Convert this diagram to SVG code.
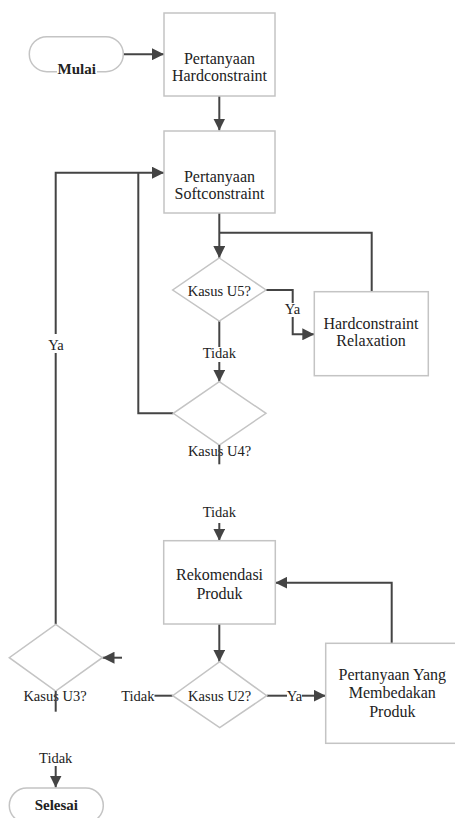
<svg xmlns="http://www.w3.org/2000/svg" width="455" height="818" viewBox="0 0 455 818" font-family="Liberation Serif, Times New Roman, serif" font-size="14.5">
<style>
.shape{fill:#fff;stroke:#c4c4c4;stroke-width:1.5}
.conn{fill:none;stroke:#444;stroke-width:2}
.t{fill:#222;text-anchor:middle}
.n{font-size:16px}
.b{font-weight:bold;font-size:15px}
.bg{fill:#fff;stroke:none}
</style>
<defs>
<marker id="arr" viewBox="0 0 12 12" refX="12" refY="6" markerWidth="12" markerHeight="12" markerUnits="userSpaceOnUse" orient="auto">
<path d="M0,0 L12,6 L0,12 z" fill="#444"/>
</marker>
</defs>
<rect width="455" height="818" fill="#fff"/>
<g id="connectors">
<path class="conn" d="M123.3,54.2 H164" marker-end="url(#arr)"/>
<path class="conn" d="M219.3,96 V130.5" marker-end="url(#arr)"/>
<path class="conn" d="M219.3,213 V258" marker-end="url(#arr)"/>
<path class="conn" d="M371.7,291.7 V232.7 H219.3"/>
<path class="conn" d="M266,290 H292.7 V303"/>
<path class="conn" d="M292.7,317 V334.3 H314.3" marker-end="url(#arr)"/>
<path class="conn" d="M219.3,321 V347"/>
<path class="conn" d="M219.3,362 V381.7" marker-end="url(#arr)"/>
<path class="conn" d="M173.3,413.3 H138.3 V172.7"/>
<path class="conn" d="M55.7,624.3 V353"/>
<path class="conn" d="M55.7,334 V172.7 H164" marker-end="url(#arr)"/>
<path class="conn" d="M219.3,523 V540.7" marker-end="url(#arr)"/>
<path class="conn" d="M219.3,624 V661.7" marker-end="url(#arr)"/>
<path class="conn" d="M391.7,643.3 V582.7 H275.3" marker-end="url(#arr)"/>
<path class="conn" d="M154.5,695.7 H172.7"/>
<path class="conn" d="M266.7,695.7 H287"/>
<path class="conn" d="M302,695.7 H325.7" marker-end="url(#arr)"/>
<path class="conn" d="M122,657.7 H102.5" marker-end="url(#arr)"/>
<path class="conn" d="M55.7,766 V787.5" marker-end="url(#arr)"/>
</g>
<g id="mulai">
<rect class="shape" x="29.3" y="36.7" width="94" height="35" rx="17.5"/>
<rect class="bg" x="57" y="64" width="40" height="12"/>
<text class="t b" x="76.7" y="73.5">Mulai</text>
</g>
<g id="hardconstraint">
<rect class="shape" x="164" y="13" width="111" height="83"/>
<text class="t n" x="219.5" y="64">Pertanyaan</text>
<text class="t n" x="219.5" y="81">Hardconstraint</text>
</g>
<g id="softconstraint">
<rect class="shape" x="164" y="131" width="111" height="82"/>
<text class="t n" x="219.5" y="182">Pertanyaan</text>
<text class="t n" x="219.5" y="198.5">Softconstraint</text>
</g>
<g id="u5">
<polygon class="shape" points="219.3,258 266,290 219.3,321 172.7,290"/>
<text class="t" x="219.3" y="296">Kasus U5?</text>
<text class="t" x="292.5" y="314">Ya</text>
<text class="t" x="219.3" y="357.5">Tidak</text>
</g>
<g id="relaxation">
<rect class="shape" x="314.3" y="291.7" width="114" height="84"/>
<text class="t n" x="371" y="329">Hardconstraint</text>
<text class="t n" x="371" y="346">Relaxation</text>
</g>
<g id="u4">
<polygon class="shape" points="219.3,381.7 266,413.3 219.3,445 173.3,413.3"/>
<text class="t" x="219.5" y="455.5">Kasus U4?</text>
<line class="conn" x1="219.3" y1="445" x2="219.3" y2="464.3"/>
<text class="t" x="219.3" y="516.5">Tidak</text>
</g>
<g id="rekomendasi">
<rect class="shape" x="163.7" y="540.7" width="111.6" height="83.3"/>
<text class="t n" x="219.5" y="580">Rekomendasi</text>
<text class="t n" x="219.5" y="598.5">Produk</text>
</g>
<g id="u2">
<polygon class="shape" points="219.7,661.7 266.7,695.7 219.7,727.7 172.7,695.7"/>
<text class="t" x="219.7" y="700.5">Kasus U2?</text>
<text class="t" x="154.5" y="700.5" style="text-anchor:end">Tidak</text>
<text class="t" x="294.5" y="700.5">Ya</text>
</g>
<g id="pembeda">
<rect class="shape" x="325.7" y="643.3" width="134" height="100"/>
<text class="t n" x="392.3" y="679.5">Pertanyaan Yang</text>
<text class="t n" x="392.3" y="698">Membedakan</text>
<text class="t n" x="392.3" y="716.5">Produk</text>
</g>
<g id="u3">
<polygon class="shape" points="55.7,624.3 102.3,657.7 55.7,691 9.3,657.7"/>
<text class="t" x="55" y="700.5">Kasus U3?</text>
<line class="conn" x1="55.7" y1="691" x2="55.7" y2="711.7"/>
<text class="t" x="56" y="350">Ya</text>
<text class="t" x="55.7" y="762.5">Tidak</text>
</g>
<g id="selesai">
<rect class="shape" x="9.3" y="788" width="94" height="35" rx="17.5"/>
<text class="t b" x="56.3" y="810">Selesai</text>
</g>
</svg>
